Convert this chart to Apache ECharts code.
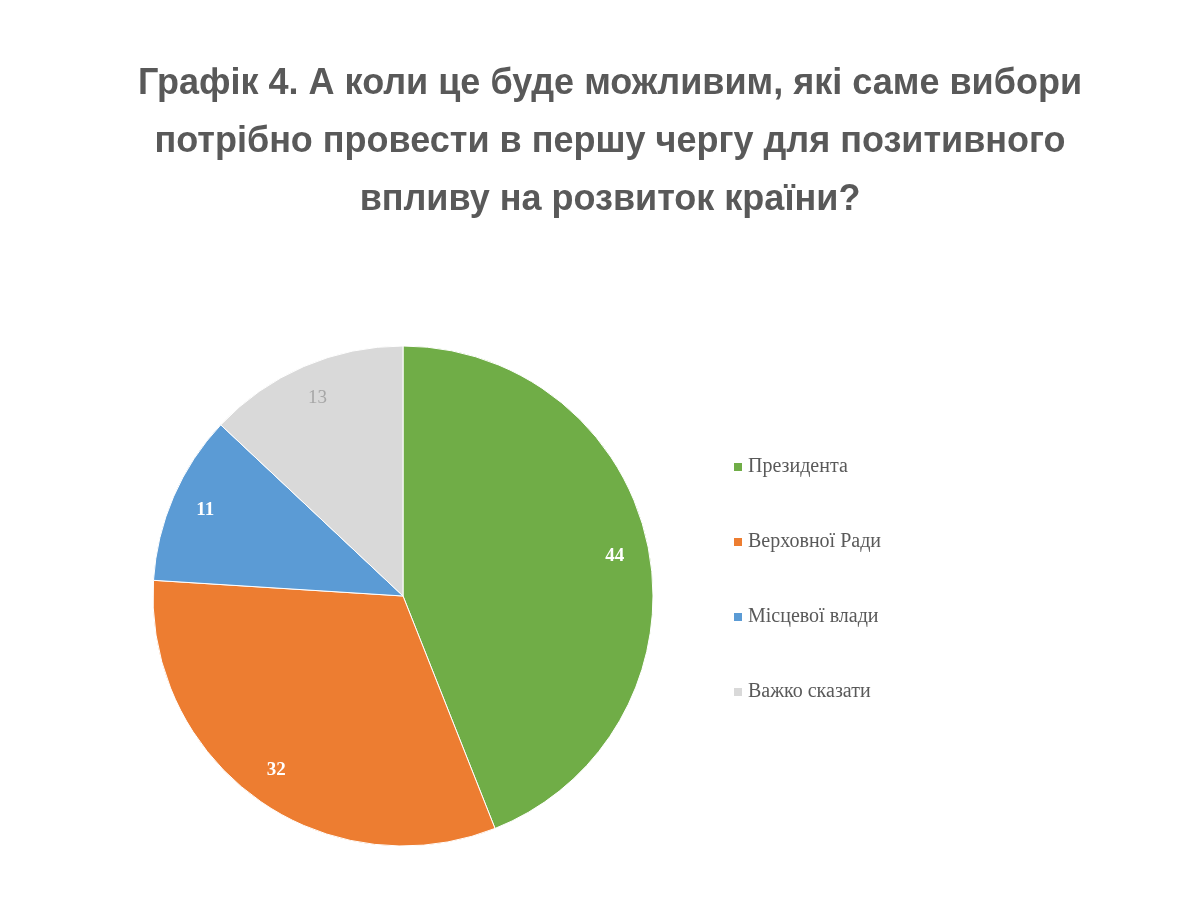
<!DOCTYPE html>
<html><head><meta charset="utf-8">
<script src="https://cdn.jsdelivr.net/npm/echarts@6/dist/echarts.min.js"></script>
<style>html,body{margin:0;padding:0;background:#fff}#c{width:1200px;height:906px}</style>
</head><body><div id="c"></div>
<script>
const categories = ["Президента", "Верховної Ради", "Місцевої влади", "Важко сказати"];
const values = [44, 32, 11, 13];
const colors = ["#70AD47", "#ED7D31", "#5B9BD5", "#D9D9D9"];
const labelColors = ["#ffffff", "#ffffff", "#ffffff", "#a6a6a6"];
const data = categories.map((n, i) => ({ name: n, value: values[i], itemStyle: { color: colors[i] } }));
const chart = echarts.init(document.getElementById('c'));
chart.setOption({
  animation: false,
  title: {
    text: "Графік 4. А коли це буде можливим, які саме вибори\nпотрібно провести в першу чергу для позитивного\nвпливу на розвиток країни?",
    left: 605, top: 50, textAlign: 'center',
    textStyle: { fontFamily: 'Liberation Sans', fontWeight: 'bold', fontSize: 36, lineHeight: 58, color: '#595959' }
  },
  legend: {
    orient: 'vertical', left: 727, top: 452, itemGap: 55, itemWidth: 10, itemHeight: 10, icon: 'rect',
    data: categories,
    textStyle: { fontFamily: 'Liberation Serif', fontSize: 20, color: '#595959' }
  },
  series: [
    { type: 'pie', center: [403, 596], radius: [0, 250], startAngle: 90, clockwise: true,
      label: { show: false }, labelLine: { show: false }, silent: true,
      itemStyle: { borderColor: '#fff', borderWidth: 1 }, data: data },
    { type: 'pie', center: [403, 596], radius: [175, 250], startAngle: 90, clockwise: true, silent: true,
      legendHoverLink: false,
      itemStyle: { color: 'transparent' },
      label: { show: true, position: 'inside', fontFamily: 'Liberation Serif', fontWeight: 'bold', fontSize: 19,
        formatter: p => '{a' + p.dataIndex + '|' + p.value + '}',
        rich: { a0: { color: labelColors[0], fontWeight: 'bold', fontSize: 19, fontFamily: 'Liberation Serif' },
                a1: { color: labelColors[1], fontWeight: 'bold', fontSize: 19, fontFamily: 'Liberation Serif' },
                a2: { color: labelColors[2], fontWeight: 'bold', fontSize: 19, fontFamily: 'Liberation Serif' },
                a3: { color: labelColors[3], fontWeight: 'normal', fontSize: 19, fontFamily: 'Liberation Serif' } } },
      data: categories.map((n, i) => ({ name: n + ' ', value: values[i] })) }
  ]
});
</script></body></html>
